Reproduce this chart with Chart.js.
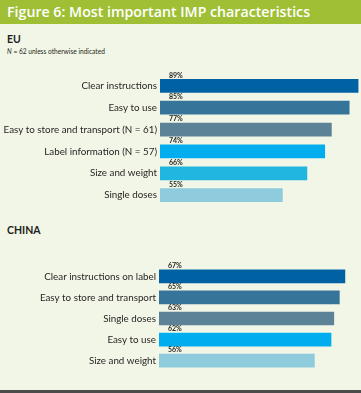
<!DOCTYPE html>
<html>
<head>
<meta charset="utf-8">
<script src="https://cdn.jsdelivr.net/npm/chart.js@4"></script>
<style>
  html, body { margin: 0; padding: 0; }
  body { width: 361px; height: 393px; overflow: hidden; background: #f2f6e7; }
  #wrap { position: relative; width: 361px; height: 393px; background: #f2f6e7; font-family: Lato, sans-serif; color: #231f20; }
  #title { position: absolute; left: 0; top: 0; width: 361px; height: 24px; background: #9fbf35; color: #fff;
           font-family: "Open Sans", sans-serif; font-weight: 600; font-size: 14.2px; line-height: 24px; padding-left: 7px; box-sizing: border-box; white-space: nowrap; }
  .head { position: absolute; left: 7px; font-weight: 700; font-size: 10.5px; }
  #note { position: absolute; left: 7px; top: 47px; font-size: 6.6px; white-space: nowrap; }
  canvas { position: absolute; left: 0; }
  #bottom { position: absolute; left: 0; top: 390px; width: 361px; height: 3px; background: #4b4b4b; }
</style>
</head>
<body>
<div id="wrap">
  <div id="title">Figure 6: Most important IMP characteristics</div>
  <div class="head" style="top:33px">EU</div>
  <div id="note"><i>N</i> = 62 unless otherwise indicated</div>
  <div class="head" style="top:224px">CHINA</div>
  <canvas id="eu" width="361" height="149" style="top:66px"></canvas>
  <canvas id="cn" width="361" height="123" style="top:257px"></canvas>
  <div id="bottom"></div>
</div>
<script>
const euCategories = ["Clear instructions", "Easy to use", "Easy to store and transport (N = 61)", "Label information (N = 57)", "Size and weight", "Single doses"];
const euValues = [89, 85, 77, 74, 66, 55];
const euColors = ["#0062a3", "#377499", "#5b8296", "#00aeef", "#20b6e0", "#8ecbdc"];

const cnCategories = ["Clear instructions on label", "Easy to store and transport", "Single doses", "Easy to use", "Size and weight"];
const cnValues = [67, 65, 63, 62, 56];
const cnColors = ["#0062a3", "#377499", "#5b8296", "#00aeef", "#8ecbdc"];

const labelFont = 'Lato, sans-serif';

const valueLabels = {
  id: "valueLabels",
  afterDatasetsDraw(chart) {
    const ctx = chart.ctx;
    const meta = chart.getDatasetMeta(0);
    const data = chart.data.datasets[0].data;
    ctx.save();
    ctx.fillStyle = "#231f20";
    ctx.font = "bold 7px Lato, sans-serif";
    ctx.textAlign = "left";
    ctx.textBaseline = "bottom";
    meta.data.forEach((el, i) => {
      ctx.fillText(data[i] + "%", el.base + 9, el.y - el.height / 2 - 0.5);
    });
    ctx.restore();
  }
};

function makeChart(id, labels, values, colors, xmax, axisWidth) {
  return new Chart(document.getElementById(id), {
    type: "bar",
    data: {
      labels: labels,
      datasets: [{ data: values, backgroundColor: colors, borderWidth: 0, barThickness: 13 }]
    },
    options: {
      indexAxis: "y",
      responsive: false,
      animation: false,
      devicePixelRatio: 1,
      layout: { padding: 0 },
      plugins: { legend: { display: false }, tooltip: { enabled: false } },
      scales: {
        x: { display: false, min: 0, max: xmax },
        y: {
          grid: { display: false, drawTicks: false },
          border: { display: false },
          ticks: { color: "#231f20", font: { family: labelFont, size: 9.8 }, padding: 3 },
          afterFit(scale) { scale.width = axisWidth; }
        }
      }
    },
    plugins: [valueLabels]
  });
}

makeChart("eu", euCategories, euValues, euColors, 90.3, 160);
makeChart("cn", cnCategories, cnValues, cnColors, 72.8, 159);
</script>
</body>
</html>
